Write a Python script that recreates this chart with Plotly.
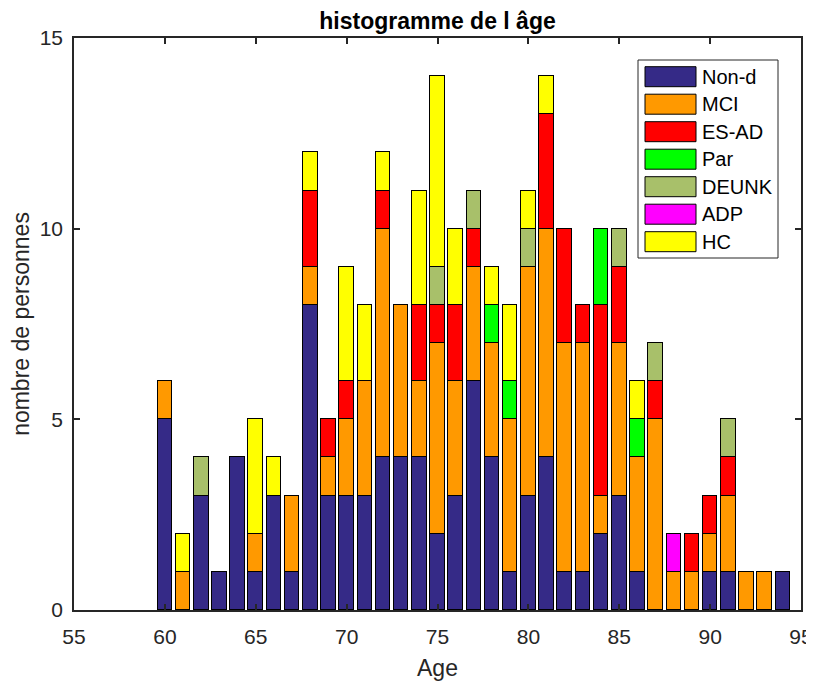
import plotly.graph_objects as go

ages = list(range(60, 95))
categories = ["Non-d", "MCI", "ES-AD", "Par", "DEUNK", "ADP", "HC"]
colors = ["#352A87", "#FF9900", "#FF0000", "#00FF00", "#A8C06A", "#FF00FF", "#FFFF00"]

# counts per age (60..94) for each category
non_d = [5, 0, 3, 1, 4, 1, 3, 1, 8, 3, 3, 3, 4, 4, 4, 2, 3, 6, 4, 1, 3, 4, 1, 1, 2, 3, 1, 0, 0, 0, 1, 1, 0, 0, 1]
mci   = [1, 1, 0, 0, 0, 1, 0, 2, 1, 1, 2, 3, 6, 4, 2, 5, 3, 3, 3, 4, 6, 6, 6, 6, 1, 4, 3, 5, 1, 1, 1, 2, 1, 1, 0]
es_ad = [0, 0, 0, 0, 0, 0, 0, 0, 2, 1, 1, 0, 1, 0, 2, 1, 2, 1, 0, 0, 0, 3, 3, 1, 5, 2, 0, 1, 0, 1, 1, 1, 0, 0, 0]
par   = [0, 0, 0, 0, 0, 0, 0, 0, 0, 0, 0, 0, 0, 0, 0, 0, 0, 0, 1, 1, 0, 0, 0, 0, 2, 0, 1, 0, 0, 0, 0, 0, 0, 0, 0]
deunk = [0, 0, 1, 0, 0, 0, 0, 0, 0, 0, 0, 0, 0, 0, 0, 1, 0, 1, 0, 0, 1, 0, 0, 0, 0, 1, 0, 1, 0, 0, 0, 1, 0, 0, 0]
adp   = [0, 0, 0, 0, 0, 0, 0, 0, 0, 0, 0, 0, 0, 0, 0, 0, 0, 0, 0, 0, 0, 0, 0, 0, 0, 0, 0, 0, 1, 0, 0, 0, 0, 0, 0]
hc    = [0, 1, 0, 0, 0, 3, 1, 0, 1, 0, 3, 2, 1, 0, 3, 5, 2, 0, 1, 2, 1, 1, 0, 0, 0, 0, 1, 0, 0, 0, 0, 0, 0, 0, 0]
series = [non_d, mci, es_ad, par, deunk, adp, hc]

x_ticks = [55, 60, 65, 70, 75, 80, 85, 90, 95]
y_ticks = [0, 5, 10, 15]

FONT = "Liberation Sans, Arial, Helvetica, sans-serif"
AX = "#262626"

fig = go.Figure()
for name, col, vals in zip(categories, colors, series):
    fig.add_trace(go.Bar(
        x=ages, y=vals, name=name, width=0.8,
        marker=dict(color=col, line=dict(color="black", width=1)),
        showlegend=False,
    ))

# page body has an 8px default margin: compensate
OFF = 8
W, H = 814 - OFF, 681 - OFF
L, T = 74 - OFF, 38 - OFF
R = W - (801 - OFF)
B = H - (610 - OFF)
pw, ph = W - L - R, H - T - B

def px_x(p):
    return (p - OFF - L) / pw

def px_y(p):
    return (H - B - (p - OFF)) / ph

shapes = []
annotations = []
# legend box
shapes.append(dict(type="rect", xref="paper", yref="paper",
                   x0=px_x(638), x1=px_x(778), y0=px_y(258), y1=px_y(60),
                   line=dict(color=AX, width=1), fillcolor="white", layer="above"))
for i, (name, col) in enumerate(zip(categories, colors)):
    cy = 76.7 + i * 27.5
    shapes.append(dict(type="rect", xref="paper", yref="paper",
                       x0=px_x(645), x1=px_x(696), y0=px_y(cy + 10), y1=px_y(cy - 10),
                       line=dict(color="black", width=1), fillcolor=col, layer="above"))
    annotations.append(dict(xref="paper", yref="paper", x=px_x(700), y=px_y(cy),
                            xanchor="left", yanchor="middle", text=name, showarrow=False,
                            font=dict(family=FONT, size=20, color="black")))

fig.update_layout(
    width=W, height=H,
    margin=dict(l=L, r=R, t=T, b=B, autoexpand=False),
    paper_bgcolor="white", plot_bgcolor="white",
    barmode="stack", bargap=0,
    font=dict(family=FONT, size=20, color=AX),
    title=dict(text="<b>histogramme de l âge</b>", x=(L + pw / 2) / W, xanchor="center",
               y=1, yanchor="top", yref="container", pad=dict(t=5),
               font=dict(family=FONT, size=23, color="black")),
    shapes=shapes, annotations=annotations,
)
fig.update_xaxes(range=[55, 95], tickvals=x_ticks, ticktext=[str(v) for v in x_ticks],
                 ticks="inside", ticklen=6, tickcolor=AX, tickwidth=1.5,
                 showline=True, linecolor=AX, linewidth=1.5, mirror="ticks",
                 showgrid=False, zeroline=False, automargin=False,
                 ticklabelstandoff=7,
                 tickfont=dict(family=FONT, size=21, color=AX),
                 title=dict(text="Age", font=dict(family=FONT, size=23, color=AX), standoff=13))
fig.update_yaxes(range=[0, 15], tickvals=y_ticks, ticktext=[str(v) for v in y_ticks],
                 ticks="inside", ticklen=6, tickcolor=AX, tickwidth=1.5,
                 showline=True, linecolor=AX, linewidth=1.5, mirror="ticks",
                 showgrid=False, zeroline=False, automargin=False,
                 ticklabelstandoff=5,
                 tickfont=dict(family=FONT, size=21, color=AX),
                 title=dict(text="nombre de personnes", font=dict(family=FONT, size=23, color=AX), standoff=10))

fig.write_html("out.html")
